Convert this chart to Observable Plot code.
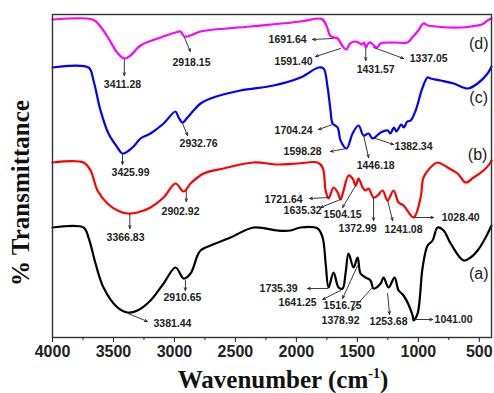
<!DOCTYPE html>
<html><head><meta charset="utf-8">
<script src="https://cdn.jsdelivr.net/npm/d3@7"></script>
<script src="https://cdn.jsdelivr.net/npm/@observablehq/plot@0.6"></script>
<style>body{margin:0;background:#fff} svg{display:block}</style>
</head><body><div id="chart"></div>
<script>
// Series (offset transmittance, arbitrary units)
const seriesNames = ["a", "b", "c", "d"];
const seriesColors = ["#000000", "#ff0000", "#0000ff", "#ff00ff"];
const seriesTags = ["(a)", "(b)", "(c)", "(d)"];
const tagWn = [505, 514, 505, 505];
const tagT = [64, 183, 240, 294];

const wnA = [4000,3746,3705,3647,3582,3467,3385,3303,3196,3089,2991,2925,2868,2811,2786,2704,2540,2351,2154,2048,1966,1826,1785,1760,1736,1695,1654,1621,1597,1572,1531,1498,1474,1432,1392,1367,1309,1285,1244,1195,1162,1121,1047,1039,1006,965,924,883,842,793,735,629,571,514,448,400];
const tA  = [110,110,100,74,50,30,25,27,37,54,70,59,64,82,87,92,100,110,107,107,110,109,100,74,50,65,50,49,64,84,70,80,64,60,57,49,54,60,50,60,47,42,22,17,24,70,92,97,110,107,94,77,80,87,100,112];

const wnB = [4000,3746,3688,3631,3549,3467,3385,3303,3196,3089,2991,2925,2868,2811,2761,2597,2351,2154,1990,1826,1785,1760,1736,1695,1662,1638,1613,1572,1539,1514,1490,1457,1432,1408,1367,1334,1293,1252,1203,1162,1121,1039,981,957,883,842,760,678,612,547,465,407,400];
const tB  = [175,175,167,147,134,127,124,125,130,140,154,146,154,160,164,169,175,173,174,175,170,147,139,150,145,138,147,162,159,152,159,150,147,149,140,142,147,137,147,135,132,120,140,160,172,175,170,164,155,160,167,175,177];

const wnC = [4000,3705,3664,3606,3541,3467,3426,3344,3278,3196,3089,2991,2966,2933,2893,2843,2786,2704,2458,2187,1966,1818,1777,1744,1720,1703,1662,1638,1588,1539,1490,1449,1408,1375,1309,1250,1230,1200,1180,1140,1120,1090,1063,1022,965,924,899,817,711,596,514,432,400];
const tC  = [270,270,257,227,204,190,184,190,199,204,214,226,220,215,220,227,234,239,247,252,260,270,269,250,227,214,210,197,189,204,212,202,204,199,205,207,204,210,206,213,210,216,217,227,250,260,259,257,254,249,254,264,271];

const wnD = [4000,3672,3620,3540,3470,3411,3360,3278,3114,2991,2950,2918,2870,2786,2376,1966,1818,1785,1750,1725,1691,1660,1630,1591,1560,1520,1490,1465,1445,1431,1410,1390,1365,1337,1310,1200,1090,1050,1000,960,920,850,760,650,570,480,432,400];
const tD  = [318,318,313,299,285,279,282,292,300,305,306,301,302,306,311,316,319,318,311,302,300,299,293,288,294,296,295,293,295,290,294,295,292,290,294,295,295,300,307,314,312,311,310,310,311,313,317,319];

// Peak annotations
const peakText = ["3411.28","2918.15","1691.64","1591.40","1431.57","1337.05",
  "3425.99","2932.76","1704.24","1598.28","1446.18","1382.34",
  "3366.83","2902.92","1721.64","1635.32","1504.15","1372.99","1241.08","1028.40",
  "3381.44","2910.65","1735.39","1641.25","1516.75","1378.92","1253.68","1041.00"];
const peakLabelWn = [3426,2860,2072,2023,1350,915, 3360,2802,2023,1949,1350,1039, 3401,2950,2105,1949,1621,1498,1121,653, 3016,2934,2146,1990,1621,1638,1244,711];
const peakLabelT  = [253,275,298,276,268,279, 165,194,207,186,172,191, 100,126,138,127,123,109,108,120, 14,40,49,35,32,17,16,18];
const arrowFromWn = [3411,2918,1700,1638,1431,1367, 3426,2933,1703,1588,1449,1375, 3366,2903,1736,1638,1514,1367,1252,1039, 3381,2910,1744,1638,1498,1384,1252,1039];
const arrowFromT  = [278,300,299,289,289,290, 184,214,213,189,202,200, 124,147,140,138,152,140,137,120, 24,57,49,47,72,49,44,18];
const arrowToWn   = [3411,2870,1867,1843,1431,1121, 3426,2893,1818,1720,1408,1203, 3366,2903,1892,1802,1621,1367,1211,875, 3221,2910,1908,1785,1621,1547,1236,883];
const arrowToT    = [262,286,298,281,277,279, 173,202,208,186,180,193, 109,136,139,130,130,117,117,120, 16,47,49,38,39,27,23,18];

const majorTicks = [4000,3500,3000,2500,2000,1500,1000,500];
const minorTicks = [3750,3250,2750,2250,1750,1250,750];

const spectra = [];
[[wnA,tA],[wnB,tB],[wnC,tC],[wnD,tD]].forEach(([w,t],i) => {
  w.forEach((x,j) => spectra.push({series: seriesNames[i], wn: x, t: t[j]}));
});
const peaks = peakText.map((s,i) => ({text: s, x: peakLabelWn[i], y: peakLabelT[i],
  x1: arrowFromWn[i], y1: arrowFromT[i], x2: arrowToWn[i], y2: arrowToT[i]}));
const tags = seriesTags.map((s,i) => ({text: s, x: tagWn[i], y: tagT[i]}));

const plot = Plot.plot({
  width: 494, height: 393,
  marginLeft: 52, marginRight: 3, marginTop: 14, marginBottom: 56,
  style: {background: "#fff", color: "#222", fontFamily: "'Liberation Sans', Arial, sans-serif"},
  x: {domain: [4000, 400]},
  y: {domain: [0, 323], axis: null},
  color: {domain: seriesNames, range: seriesColors},
  marks: [
    Plot.line(spectra, {x: "wn", y: "t", z: "series", stroke: "series", strokeWidth: 2.2, curve: "catmull-rom"}),
    Plot.arrow(peaks, {x1: "x1", y1: "y1", x2: "x2", y2: "y2", stroke: "#222", strokeWidth: 0.9, headLength: 5, headAngle: 45}),
    Plot.text(peaks, {x: "x", y: "y", text: "text", fontSize: 10.5, fontWeight: "bold", fill: "#222"}),
    Plot.text(tags, {x: "x", y: "y", text: "text", fontSize: 16, fill: "#222"}),
    Plot.frame({stroke: "#333", strokeWidth: 1.4}),
    Plot.axisX(majorTicks, {tickSize: 5, tickPadding: 3, fontSize: 16, fontWeight: "bold", label: null, tickFormat: d => String(d)}),
    Plot.axisX(minorTicks, {tickSize: 3, label: null, tickFormat: () => ""})
  ]
});
document.getElementById("chart").appendChild(plot);

const svg = d3.select(plot);
svg.append("text")
  .attr("transform", "translate(29,193) rotate(-90)")
  .attr("text-anchor", "middle")
  .attr("font-family", "'Liberation Serif', 'Times New Roman', serif")
  .attr("font-weight", "bold").attr("font-size", 25).attr("fill", "#111")
  .text("% Transmittance");
const xt = svg.append("text")
  .attr("x", 283).attr("y", 388)
  .attr("text-anchor", "middle")
  .attr("font-family", "'Liberation Serif', 'Times New Roman', serif")
  .attr("font-weight", "bold").attr("font-size", 25).attr("fill", "#111");
xt.append("tspan").text("Wavenumber (cm");
xt.append("tspan").attr("dy", -10).attr("font-size", 14).text("-1");
xt.append("tspan").attr("dy", 10).text(")");
</script>
</body></html>
